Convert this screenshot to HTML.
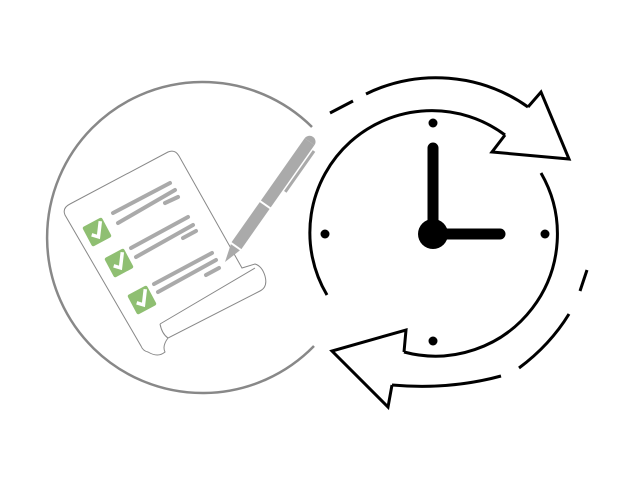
<!DOCTYPE html>
<html><head><style>html,body{margin:0;padding:0;background:#fff;}svg{display:block}</style></head>
<body>
<svg width="640" height="480" viewBox="0 0 640 480" xmlns="http://www.w3.org/2000/svg">
<path d="M312,127 A155.5,155.5 0 1 0 314,346" fill="none" stroke="#888" stroke-width="2.5"/>
<path d="M65,215 Q62,208 70,204 L168,152 Q175,149 179,156 L242,268 L255,264 Q262,266 265,276 Q268,287 260,291 L168,338 Q162,346 165,352 Q158,358 148,352 Q143,351 141,346 Z" fill="#fff" stroke="#888" stroke-width="1"/>
<path d="M160,324 L255,268 M160,324 Q162,334 168,338" fill="none" stroke="#888" stroke-width="1"/>
<g stroke="#aaa" stroke-width="4" stroke-linecap="round" fill="none">
<path d="M113,213 L170,183 M118,223 L175,190 M165,203 L178,197"/>
<path d="M131,248 L188,217 M136,257 L193,225 M183,238 L196,231"/>
<path d="M154,284 L212,253 M158,292 L216,260 M206,275 L219,268"/>
</g>
<g>
<g transform="translate(97,232) rotate(-28)"><rect x="-11" y="-11" width="22" height="22" rx="2" fill="#8fbf72"/><path d="M-6,0 L-1,5 L8,-8" stroke="#fff" stroke-width="3.5" fill="none"/></g>
<g transform="translate(119,263) rotate(-28)"><rect x="-11" y="-11" width="22" height="22" rx="2" fill="#8fbf72"/><path d="M-6,0 L-1,5 L8,-8" stroke="#fff" stroke-width="3.5" fill="none"/></g>
<g transform="translate(142,300) rotate(-28)"><rect x="-11" y="-11" width="22" height="22" rx="2" fill="#8fbf72"/><path d="M-6,0 L-1,5 L8,-8" stroke="#fff" stroke-width="3.5" fill="none"/></g>
</g>
<g transform="translate(225,262) rotate(-54.9)" fill="#aaa">
<path d="M0,0 L18,-5.5 L18,5.5 Z"/>
<rect x="20" y="-6" width="49" height="12"/>
<rect x="71" y="-6" width="76" height="12"/>
<path d="M147,-6 A6,6 0 0 1 147,6 Z"/>
<rect x="92" y="7.5" width="50" height="3"/>
</g>
<g fill="none" stroke="#000" stroke-width="3">
<path d="M327,295 A122,122 0 0 1 505,135"/>
<path d="M541,173 A122,122 0 0 1 404,352"/>
<path d="M505,135 L492,152 L569,159 L541,92 L528,107" stroke-linejoin="miter"/>
<path d="M366,94 A159,159 0 0 1 528,107"/>
<path d="M330,113 L353,101"/>
<path d="M404,352 L406,330 L332,351 L388,407 L392,385" stroke-linejoin="miter"/>
<path d="M392,385 Q450,390 501,376"/>
<path d="M519,368 Q550,345 569,314"/>
<path d="M580,291 L587,270"/>
</g>
<g fill="#000">
<circle cx="433" cy="123" r="4.5"/>
<circle cx="433" cy="341" r="4.5"/>
<circle cx="325" cy="234" r="4.5"/>
<circle cx="545" cy="234" r="4.5"/>
<circle cx="433" cy="234" r="15"/>
</g>
<path d="M433,234 V148 M433,234 H500" stroke="#000" stroke-width="11" stroke-linecap="round"/>
</svg>
</body></html>
